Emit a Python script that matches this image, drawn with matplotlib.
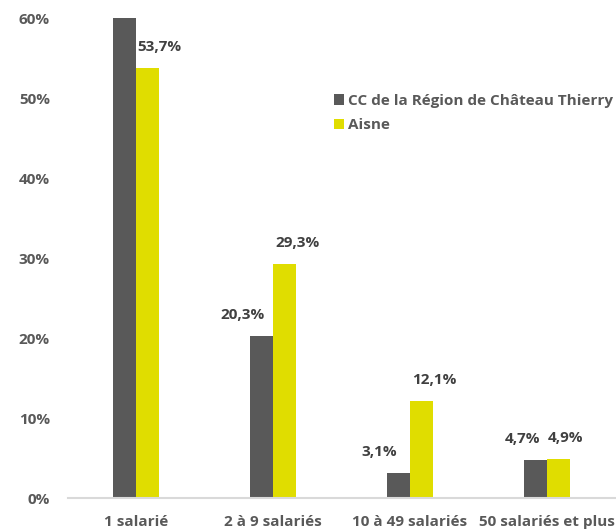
import matplotlib
matplotlib.use("Agg")
import matplotlib.pyplot as plt
import numpy as np

categories = ["1 salarié", "2 à 9 salariés", "10 à 49 salariés", "50 salariés et plus"]
series_names = ["CC de la Région de Château Thierry", "Aisne"]
cc_values = [71.9, 20.3, 3.1, 4.7]
aisne_values = [53.7, 29.3, 12.1, 4.9]
yticks = [0, 10, 20, 30, 40, 50, 60]

dark = "#595959"
yellow = "#E0DD00"
txt = "#595959"
lbl = "#404040"

plt.rcParams['font.family'] = ['Open Sans', 'DejaVu Sans']

fig = plt.figure(figsize=(6.16, 5.32), dpi=100)
W, H = 616, 532
ax = fig.add_axes([68 / W, (H - 498) / H, (616 - 68) / W, (498 - 18) / H])

x = np.arange(len(categories))
bw = 0.168
b1 = ax.bar(x - bw / 2, cc_values, bw, color=dark, label=series_names[0], zorder=2)
b2 = ax.bar(x + bw / 2, aisne_values, bw, color=yellow, label=series_names[1], zorder=2)

ax.set_ylim(0, 60)
ax.set_xlim(-0.496, 3.504)

def fmt(v):
    return f"{v:.1f}".replace(".", ",") + "%"

dark_dx = [0, -19, -19, -13]
yel_dx = [12, 13, 13, 7]
for bars, vals, dxs in ((b1, cc_values, dark_dx), (b2, aisne_values, yel_dx)):
    for r, v, dx in zip(bars, vals, dxs):
        if v <= 60:
            ax.annotate(fmt(v), (r.get_x() + r.get_width() / 2, v), xytext=(dx, 21),
                        textcoords="offset pixels", ha="center", va="center",
                        fontsize=11, fontweight="bold", color=lbl, zorder=5)

ax.set_yticks(yticks)
ax.set_yticklabels([f"{t}%" for t in yticks], fontsize=11, fontweight="bold", color=txt)
ax.set_xticks(x)
ax.set_xticklabels(categories, fontsize=11, fontweight="bold", color=txt)
ax.tick_params(axis="both", length=0)
ax.tick_params(axis="y", pad=13)
ax.tick_params(axis="x", pad=12)
for s in ["top", "right", "left"]:
    ax.spines[s].set_visible(False)
ax.spines["bottom"].set_color("#D9D9D9")
ax.spines["bottom"].set_linewidth(1.5)

leg = ax.legend(loc="upper left", bbox_to_anchor=(320 / W, 1 - 80 / H), bbox_transform=fig.transFigure,
                frameon=False, handlelength=0.7, handleheight=0.7, handletextpad=0.25,
                labelspacing=0.7, prop={"weight": "bold", "size": 11})
for t in leg.get_texts():
    t.set_color(txt)

fig.savefig("out.png", dpi=100)
